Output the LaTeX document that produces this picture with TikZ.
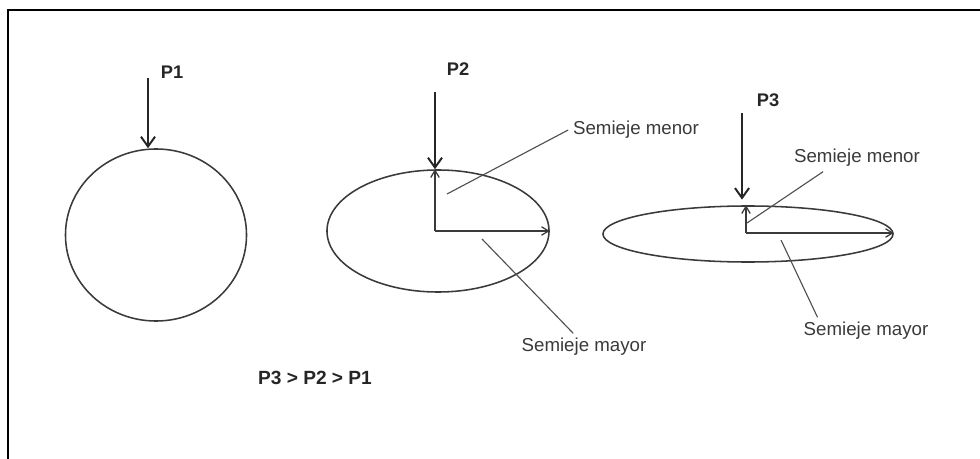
\documentclass[tikz,border=0pt]{standalone}
\usepackage{fontspec}
\setmainfont{Liberation Sans}
\usetikzlibrary{positioning,arrows.meta,calc,shapes.geometric}
\definecolor{inkgray}{HTML}{3A3A3A}
\definecolor{leadgray}{HTML}{505050}
\tikzset{
    every node/.style={font=\fontsize{13.3}{15}\selectfont,text=inkgray},
    body/.style={ellipse,draw=inkgray,line width=1.1pt,inner sep=0pt},
    load/.style={draw=black!85,line width=1.4pt,-{Straight Barb[length=7pt,width=10pt]}},
    axis/.style={draw=inkgray,line width=0.9pt,-{Straight Barb[length=5pt,width=6pt]}},
    leader/.style={draw=leadgray,line width=0.8pt},
    pname/.style={font=\bfseries\fontsize{13}{15}\selectfont,text=black!85}
}

\begin{document}
\begin{tikzpicture}[x=0.025cm,y=-0.025cm]
\useasboundingbox (0,0) rectangle (980,459);
% marco
\draw[line width=1.4pt] (8,459) -- (8,10) -- (980,10);

% P1: circulo
\node[body,minimum width=4.525cm,minimum height=4.3cm] (c1) at (156,235) {};
\node[pname] (p1) at (172,72) {P1};
\coordinate (f1) at (148,78);
\draw[load] (f1) -- (f1 |- c1.north);

% P2: elipse
\node[body,minimum width=5.55cm,minimum height=3.05cm] (c2) at (438,231) {};
\node[pname] (p2) at (458,69) {P2};
\coordinate (f2) at (435,92);
\coordinate (o2) at (435,231);
\draw[load] (f2) -- (f2 |- c2.north);
\draw[axis] (o2) -- (o2 |- c2.north);
\draw[axis] (o2) -- (o2 -| c2.east);
\node (menor2) at (636,130) {Semieje menor};
\node (mayor2) at (584,347) {Semieje mayor};
\coordinate (m2) at (447,194);
\coordinate (n2) at (482,239);
\draw[leader] (m2) -- (menor2.west);
\draw[leader] (n2) -- ($(mayor2.north west)!0.42!(mayor2.north east)$);

% P3: elipse plana
\node[body,minimum width=7.25cm,minimum height=1.4cm] (c3) at (748,234) {};
\node[pname] (p3) at (768,100) {P3};
\coordinate (f3) at (742,113);
\coordinate (o3) at (746,233);
\draw[load,shorten >=4pt] (f3) -- (f3 |- c3.north);
\draw[axis] (o3) -- (o3 |- c3.north);
\draw[axis] (o3) -- (o3 -| c3.east);
\node (menor3) at (857,158) {Semieje menor};
\node (mayor3) at (866,331) {Semieje mayor};
\coordinate (m3) at (747,223);
\coordinate (n3) at (781,240);
\draw[leader] (m3) -- ($(menor3.south west)!0.25!(menor3.south east)$);
\draw[leader] (n3) -- ($(mayor3.north west)!0.14!(mayor3.north east)$);

\node[pname,font=\bfseries\fontsize{13.6}{15}\selectfont] (rel) at (315,378) {P3 > P2 > P1};
\end{tikzpicture}
\end{document}
